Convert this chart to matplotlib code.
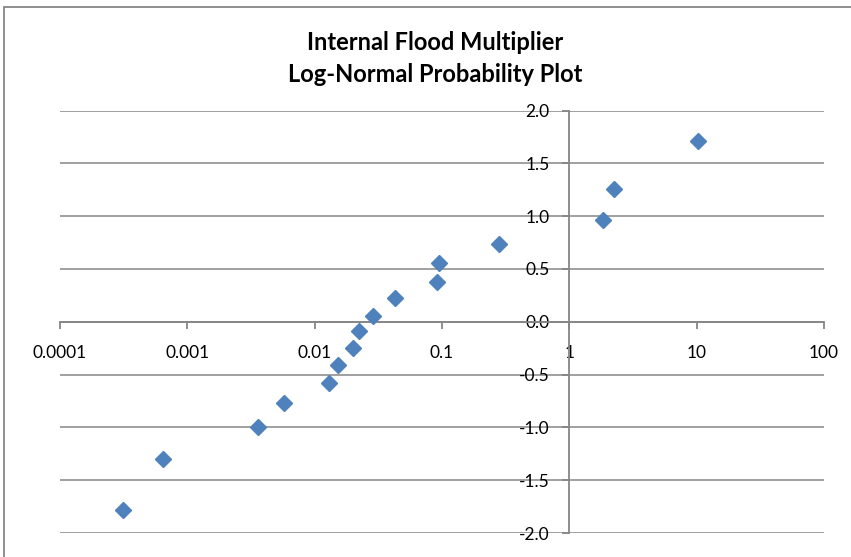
import numpy as np
import matplotlib
matplotlib.use('Agg')
import matplotlib.pyplot as plt
from matplotlib.patches import Rectangle

# Data
multiplier = [0.000315, 0.00064, 0.00361, 0.00574, 0.0129, 0.0153, 0.0201, 0.0224,
              0.0289, 0.0425, 0.0908, 0.0947, 0.282, 1.83, 2.24, 10.3]
normal_score = [-1.785, -1.304, -1.000, -0.772, -0.576, -0.411, -0.244, -0.092,
                0.057, 0.221, 0.373, 0.557, 0.738, 0.962, 1.254, 1.707]
x_ticks = [0.0001, 0.001, 0.01, 0.1, 1, 10, 100]
x_tick_labels = ['0.0001', '0.001', '0.01', '0.1', '1', '10', '100']
y_ticks = [-2.0, -1.5, -1.0, -0.5, 0.0, 0.5, 1.0, 1.5, 2.0]

GRAY = '#868686'
BLUE = '#4F81BD'

plt.rcParams['font.family'] = ['Lato', 'DejaVu Sans']

fig = plt.figure(figsize=(8.51, 5.57), dpi=100)
ax = fig.add_axes([60 / 851, 1 - 533 / 557, (824 - 60) / 851, (533 - 110.5) / 557])

ax.set_xscale('log')
ax.set_xlim(0.0001, 100)
ax.set_ylim(-2, 2)

ax.plot(multiplier, normal_score, linestyle='none', marker='D', markersize=8.5,
        color=BLUE, markeredgecolor=BLUE, zorder=5, clip_on=False)

# axes cross at x=1, y=0
ax.spines['left'].set_position(('data', 1))
ax.spines['bottom'].set_position(('data', 0))
ax.spines['top'].set_visible(False)
ax.spines['right'].set_visible(False)
for s in ('left', 'bottom'):
    ax.spines[s].set_color(GRAY)
    ax.spines[s].set_linewidth(1.3)

ax.set_xticks(x_ticks)
ax.set_xticklabels(x_tick_labels)
ax.xaxis.set_minor_locator(matplotlib.ticker.NullLocator())
ax.set_yticks(y_ticks)
ax.set_yticklabels([f'{v:.1f}' for v in y_ticks])

ax.tick_params(axis='both', colors=GRAY, labelcolor='black', labelsize=12.5,
               direction='out', length=4.7, width=1.3)
ax.tick_params(axis='x', pad=12)
ax.tick_params(axis='y', pad=9.5)

ax.yaxis.grid(True, color=GRAY, linewidth=1.1)
ax.xaxis.grid(False)
ax.set_axisbelow(True)

fig.text(435 / 851, 1 - 42 / 557, 'Internal Flood Multiplier', ha='center', va='center',
         fontsize=17, fontweight='bold')
fig.text(435 / 851, 1 - 75 / 557, 'Log-Normal Probability Plot', ha='center', va='center',
         fontsize=17, fontweight='bold')

# chart area border
fig.patches.append(Rectangle((4 / 851, -0.05), 1.1, 1 - 7 / 557 + 0.05, transform=fig.transFigure,
                             fill=False, edgecolor=GRAY, linewidth=1.3))

fig.savefig('out.png', dpi=100)
